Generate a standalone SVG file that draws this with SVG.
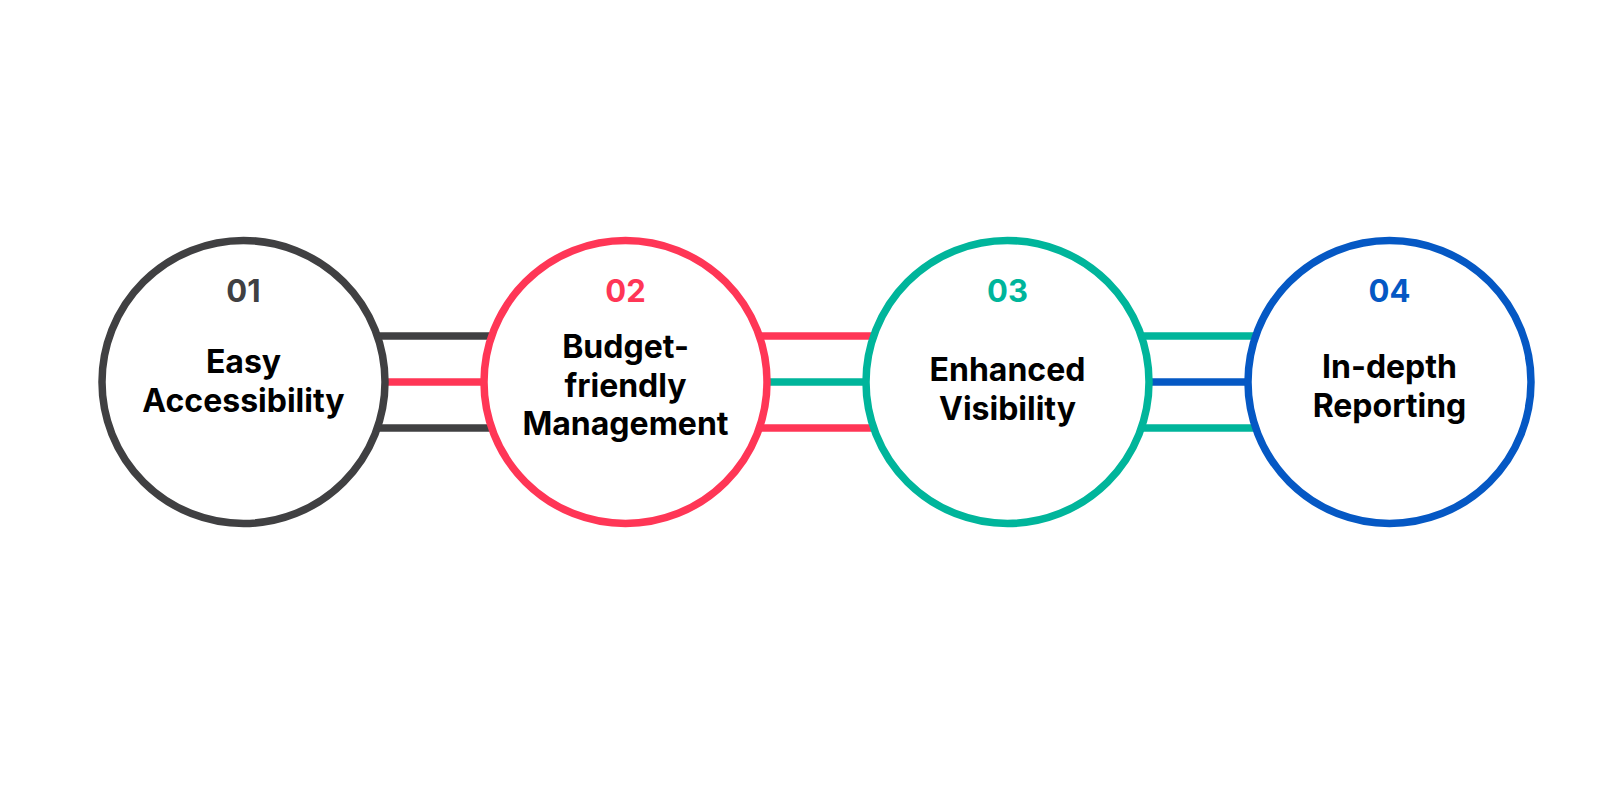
<svg xmlns="http://www.w3.org/2000/svg" width="1600" height="800" viewBox="0 0 1600 800">
<style>
.c{fill:#ffffff;stroke-width:7.5}
.ln{stroke-width:7.5;fill:none}
.num{font-family:Inter,"Liberation Sans",sans-serif;font-weight:700;font-size:31px;text-anchor:middle}
.t{font-family:Inter,"Liberation Sans",sans-serif;font-weight:700;font-size:32px;fill:#000000;text-anchor:middle}
</style>
<rect width="1600" height="800" fill="#ffffff"/>
<g id="connectors">
<line class="ln" x1="243.5" y1="336" x2="625.5" y2="336" stroke="#404042"/>
<line class="ln" x1="243.5" y1="428" x2="625.5" y2="428" stroke="#404042"/>
<line class="ln" x1="243.5" y1="382" x2="625.5" y2="382" stroke="#ff3656"/>
<line class="ln" x1="625.5" y1="336" x2="1007.5" y2="336" stroke="#ff3656"/>
<line class="ln" x1="625.5" y1="428" x2="1007.5" y2="428" stroke="#ff3656"/>
<line class="ln" x1="625.5" y1="382" x2="1007.5" y2="382" stroke="#00b59b"/>
<line class="ln" x1="1007.5" y1="336" x2="1389.5" y2="336" stroke="#00b59b"/>
<line class="ln" x1="1007.5" y1="428" x2="1389.5" y2="428" stroke="#00b59b"/>
<line class="ln" x1="1007.5" y1="382" x2="1389.5" y2="382" stroke="#0558c4"/>
</g>
<g id="node1">
<circle class="c" cx="243.5" cy="382" r="141.5" stroke="#404042"/>
<text class="num" x="243.5" y="302" fill="#404042">01</text>
<text class="t" x="243.5" y="373">Easy</text>
<text class="t" x="243.5" y="412">Accessibility</text>
</g>
<g id="node2">
<circle class="c" cx="625.5" cy="382" r="141.5" stroke="#ff3656"/>
<text class="num" x="625.5" y="302" fill="#ff3656">02</text>
<text class="t" x="625.5" y="358">Budget-</text>
<text class="t" x="625.5" y="397">friendly</text>
<text class="t" x="625.5" y="435">Management</text>
</g>
<g id="node3">
<circle class="c" cx="1007.5" cy="382" r="141.5" stroke="#00b59b"/>
<text class="num" x="1007.5" y="302" fill="#00b59b">03</text>
<text class="t" x="1007.5" y="381">Enhanced</text>
<text class="t" x="1007.5" y="420">Visibility</text>
</g>
<g id="node4">
<circle class="c" cx="1389.5" cy="382" r="141.5" stroke="#0558c4"/>
<text class="num" x="1389.5" y="302" fill="#0558c4">04</text>
<text class="t" x="1389.5" y="378">In-depth</text>
<text class="t" x="1389.5" y="417">Reporting</text>
</g>
</svg>
